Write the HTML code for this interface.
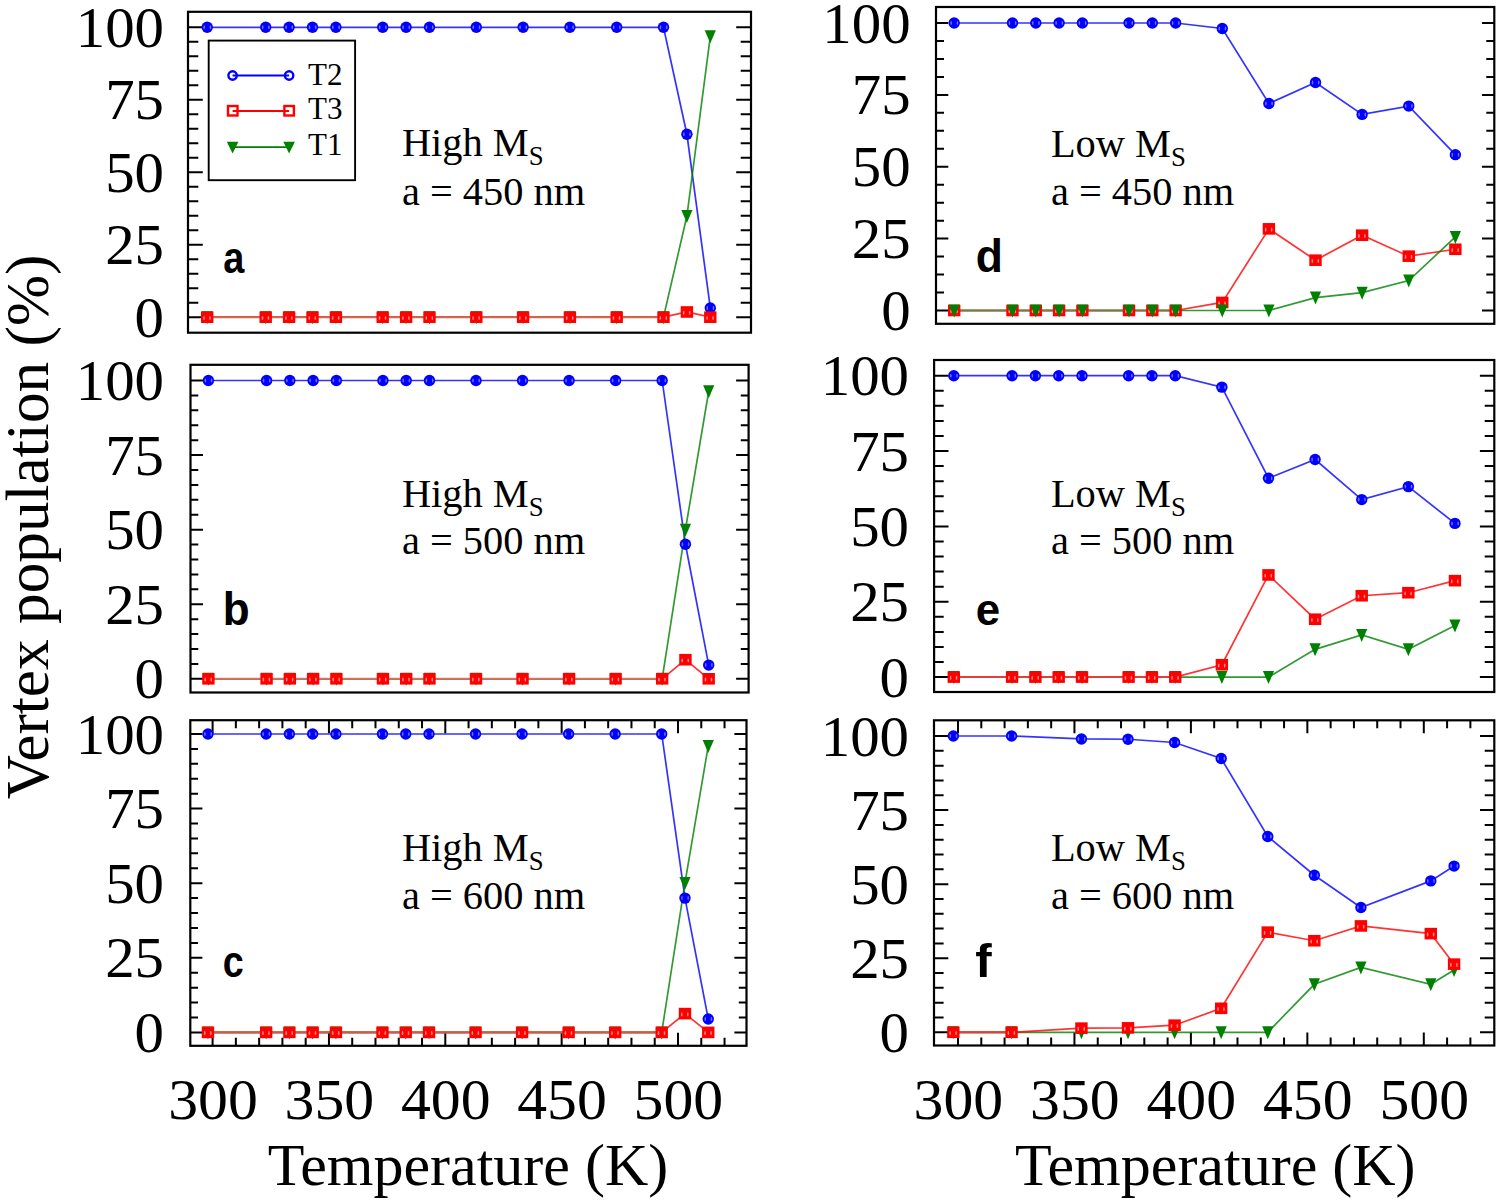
<!DOCTYPE html>
<html><head><meta charset="utf-8"><title>Vertex population</title>
<style>
html,body{margin:0;padding:0;background:#fff;}
body{width:1500px;height:1204px;overflow:hidden;}
svg{display:block;}
text{font-family:"Liberation Serif",serif;fill:#000;}
.tl{font-size:58px;}
.an{font-size:40px;}
.sub{font-size:26.5px;}
.lg{font-size:31px;}
.pl{font-family:"Liberation Sans",sans-serif;font-weight:bold;font-size:100px;}
.ax{font-size:60px;}
</style></head><body>
<svg width="1500" height="1204" viewBox="0 0 1500 1204">
<rect width="1500" height="1204" fill="#fff"/>
<path d="M188 317.2h14.8M751 317.2h-14.8M188 302.7h10.3M751 302.7h-10.3M188 288.21h10.3M751 288.21h-10.3M188 273.71h10.3M751 273.71h-10.3M188 259.22h10.3M751 259.22h-10.3M188 244.72h14.8M751 244.72h-14.8M188 230.23h10.3M751 230.23h-10.3M188 215.74h10.3M751 215.74h-10.3M188 201.24h10.3M751 201.24h-10.3M188 186.75h10.3M751 186.75h-10.3M188 172.25h14.8M751 172.25h-14.8M188 157.76h10.3M751 157.76h-10.3M188 143.26h10.3M751 143.26h-10.3M188 128.77h10.3M751 128.77h-10.3M188 114.27h10.3M751 114.27h-10.3M188 99.78h14.8M751 99.78h-14.8M188 85.28h10.3M751 85.28h-10.3M188 70.79h10.3M751 70.79h-10.3M188 56.29h10.3M751 56.29h-10.3M188 41.8h10.3M751 41.8h-10.3M188 27.3h14.8M751 27.3h-14.8" stroke="#000" stroke-width="2" fill="none"/>
<polyline points="207.2,27.3 265.7,27.3 289.1,27.3 312.5,27.3 335.9,27.3 382.7,27.3 406.1,27.3 429.5,27.3 476.3,27.3 523.1,27.3 569.9,27.3 616.7,27.3 663.5,27.3 686.9,134.27 710.3,307.92" fill="none" stroke="#0000ff" stroke-width="1.7" stroke-opacity="0.8"/>
<polyline points="207.2,317.2 265.7,317.2 289.1,317.2 312.5,317.2 335.9,317.2 382.7,317.2 406.1,317.2 429.5,317.2 476.3,317.2 523.1,317.2 569.9,317.2 616.7,317.2 663.5,317.2 686.9,216.02 710.3,36.29" fill="none" stroke="#008000" stroke-width="1.7" stroke-opacity="0.8"/>
<polyline points="207.2,317.2 265.7,317.2 289.1,317.2 312.5,317.2 335.9,317.2 382.7,317.2 406.1,317.2 429.5,317.2 476.3,317.2 523.1,317.2 569.9,317.2 616.7,317.2 663.5,317.2 686.9,311.98 710.3,317.2" fill="none" stroke="#ff0000" stroke-width="1.7" stroke-opacity="0.8"/>
<line x1="207.2" y1="317.2" x2="663.5" y2="317.2" stroke="#d06a55" stroke-width="2"/>
<circle cx="207.2" cy="27.3" r="5.7" fill="#0000ff"/><ellipse cx="204.2" cy="27.3" rx="0.8" ry="2" fill="#7070ff"/><ellipse cx="210.4" cy="27.3" rx="0.8" ry="2" fill="#7070ff"/>
<circle cx="265.7" cy="27.3" r="5.7" fill="#0000ff"/><ellipse cx="262.7" cy="27.3" rx="0.8" ry="2" fill="#7070ff"/><ellipse cx="268.9" cy="27.3" rx="0.8" ry="2" fill="#7070ff"/>
<circle cx="289.1" cy="27.3" r="5.7" fill="#0000ff"/><ellipse cx="286.1" cy="27.3" rx="0.8" ry="2" fill="#7070ff"/><ellipse cx="292.3" cy="27.3" rx="0.8" ry="2" fill="#7070ff"/>
<circle cx="312.5" cy="27.3" r="5.7" fill="#0000ff"/><ellipse cx="309.5" cy="27.3" rx="0.8" ry="2" fill="#7070ff"/><ellipse cx="315.7" cy="27.3" rx="0.8" ry="2" fill="#7070ff"/>
<circle cx="335.9" cy="27.3" r="5.7" fill="#0000ff"/><ellipse cx="332.9" cy="27.3" rx="0.8" ry="2" fill="#7070ff"/><ellipse cx="339.1" cy="27.3" rx="0.8" ry="2" fill="#7070ff"/>
<circle cx="382.7" cy="27.3" r="5.7" fill="#0000ff"/><ellipse cx="379.7" cy="27.3" rx="0.8" ry="2" fill="#7070ff"/><ellipse cx="385.9" cy="27.3" rx="0.8" ry="2" fill="#7070ff"/>
<circle cx="406.1" cy="27.3" r="5.7" fill="#0000ff"/><ellipse cx="403.1" cy="27.3" rx="0.8" ry="2" fill="#7070ff"/><ellipse cx="409.3" cy="27.3" rx="0.8" ry="2" fill="#7070ff"/>
<circle cx="429.5" cy="27.3" r="5.7" fill="#0000ff"/><ellipse cx="426.5" cy="27.3" rx="0.8" ry="2" fill="#7070ff"/><ellipse cx="432.7" cy="27.3" rx="0.8" ry="2" fill="#7070ff"/>
<circle cx="476.3" cy="27.3" r="5.7" fill="#0000ff"/><ellipse cx="473.3" cy="27.3" rx="0.8" ry="2" fill="#7070ff"/><ellipse cx="479.5" cy="27.3" rx="0.8" ry="2" fill="#7070ff"/>
<circle cx="523.1" cy="27.3" r="5.7" fill="#0000ff"/><ellipse cx="520.1" cy="27.3" rx="0.8" ry="2" fill="#7070ff"/><ellipse cx="526.3" cy="27.3" rx="0.8" ry="2" fill="#7070ff"/>
<circle cx="569.9" cy="27.3" r="5.7" fill="#0000ff"/><ellipse cx="566.9" cy="27.3" rx="0.8" ry="2" fill="#7070ff"/><ellipse cx="573.1" cy="27.3" rx="0.8" ry="2" fill="#7070ff"/>
<circle cx="616.7" cy="27.3" r="5.7" fill="#0000ff"/><ellipse cx="613.7" cy="27.3" rx="0.8" ry="2" fill="#7070ff"/><ellipse cx="619.9" cy="27.3" rx="0.8" ry="2" fill="#7070ff"/>
<circle cx="663.5" cy="27.3" r="5.7" fill="#0000ff"/><ellipse cx="660.5" cy="27.3" rx="0.8" ry="2" fill="#7070ff"/><ellipse cx="666.7" cy="27.3" rx="0.8" ry="2" fill="#7070ff"/>
<circle cx="686.9" cy="134.27" r="5.7" fill="#0000ff"/><ellipse cx="683.9" cy="134.27" rx="0.8" ry="2" fill="#7070ff"/><ellipse cx="690.1" cy="134.27" rx="0.8" ry="2" fill="#7070ff"/>
<circle cx="710.3" cy="307.92" r="5.7" fill="#0000ff"/><ellipse cx="707.3" cy="307.92" rx="0.8" ry="2" fill="#7070ff"/><ellipse cx="713.5" cy="307.92" rx="0.8" ry="2" fill="#7070ff"/>
<path d="M201.6 311.2L212.8 311.2L207.2 324.2Z" fill="#008000"/>
<path d="M260.1 311.2L271.3 311.2L265.7 324.2Z" fill="#008000"/>
<path d="M283.5 311.2L294.7 311.2L289.1 324.2Z" fill="#008000"/>
<path d="M306.9 311.2L318.1 311.2L312.5 324.2Z" fill="#008000"/>
<path d="M330.3 311.2L341.5 311.2L335.9 324.2Z" fill="#008000"/>
<path d="M377.1 311.2L388.3 311.2L382.7 324.2Z" fill="#008000"/>
<path d="M400.5 311.2L411.7 311.2L406.1 324.2Z" fill="#008000"/>
<path d="M423.9 311.2L435.1 311.2L429.5 324.2Z" fill="#008000"/>
<path d="M470.7 311.2L481.9 311.2L476.3 324.2Z" fill="#008000"/>
<path d="M517.5 311.2L528.7 311.2L523.1 324.2Z" fill="#008000"/>
<path d="M564.3 311.2L575.5 311.2L569.9 324.2Z" fill="#008000"/>
<path d="M611.1 311.2L622.3 311.2L616.7 324.2Z" fill="#008000"/>
<path d="M657.9 311.2L669.1 311.2L663.5 324.2Z" fill="#008000"/>
<path d="M681.3 210.02L692.5 210.02L686.9 223.02Z" fill="#008000"/>
<path d="M704.7 30.29L715.9 30.29L710.3 43.29Z" fill="#008000"/>
<rect x="201" y="311.4" width="12.4" height="11.6" fill="#ff0000"/><ellipse cx="204" cy="318" rx="0.8" ry="2.1" fill="#ff8a8a"/><ellipse cx="210" cy="318" rx="0.8" ry="2.1" fill="#ff8a8a"/>
<rect x="259.5" y="311.4" width="12.4" height="11.6" fill="#ff0000"/><ellipse cx="262.5" cy="318" rx="0.8" ry="2.1" fill="#ff8a8a"/><ellipse cx="268.5" cy="318" rx="0.8" ry="2.1" fill="#ff8a8a"/>
<rect x="282.9" y="311.4" width="12.4" height="11.6" fill="#ff0000"/><ellipse cx="285.9" cy="318" rx="0.8" ry="2.1" fill="#ff8a8a"/><ellipse cx="291.9" cy="318" rx="0.8" ry="2.1" fill="#ff8a8a"/>
<rect x="306.3" y="311.4" width="12.4" height="11.6" fill="#ff0000"/><ellipse cx="309.3" cy="318" rx="0.8" ry="2.1" fill="#ff8a8a"/><ellipse cx="315.3" cy="318" rx="0.8" ry="2.1" fill="#ff8a8a"/>
<rect x="329.7" y="311.4" width="12.4" height="11.6" fill="#ff0000"/><ellipse cx="332.7" cy="318" rx="0.8" ry="2.1" fill="#ff8a8a"/><ellipse cx="338.7" cy="318" rx="0.8" ry="2.1" fill="#ff8a8a"/>
<rect x="376.5" y="311.4" width="12.4" height="11.6" fill="#ff0000"/><ellipse cx="379.5" cy="318" rx="0.8" ry="2.1" fill="#ff8a8a"/><ellipse cx="385.5" cy="318" rx="0.8" ry="2.1" fill="#ff8a8a"/>
<rect x="399.9" y="311.4" width="12.4" height="11.6" fill="#ff0000"/><ellipse cx="402.9" cy="318" rx="0.8" ry="2.1" fill="#ff8a8a"/><ellipse cx="408.9" cy="318" rx="0.8" ry="2.1" fill="#ff8a8a"/>
<rect x="423.3" y="311.4" width="12.4" height="11.6" fill="#ff0000"/><ellipse cx="426.3" cy="318" rx="0.8" ry="2.1" fill="#ff8a8a"/><ellipse cx="432.3" cy="318" rx="0.8" ry="2.1" fill="#ff8a8a"/>
<rect x="470.1" y="311.4" width="12.4" height="11.6" fill="#ff0000"/><ellipse cx="473.1" cy="318" rx="0.8" ry="2.1" fill="#ff8a8a"/><ellipse cx="479.1" cy="318" rx="0.8" ry="2.1" fill="#ff8a8a"/>
<rect x="516.9" y="311.4" width="12.4" height="11.6" fill="#ff0000"/><ellipse cx="519.9" cy="318" rx="0.8" ry="2.1" fill="#ff8a8a"/><ellipse cx="525.9" cy="318" rx="0.8" ry="2.1" fill="#ff8a8a"/>
<rect x="563.7" y="311.4" width="12.4" height="11.6" fill="#ff0000"/><ellipse cx="566.7" cy="318" rx="0.8" ry="2.1" fill="#ff8a8a"/><ellipse cx="572.7" cy="318" rx="0.8" ry="2.1" fill="#ff8a8a"/>
<rect x="610.5" y="311.4" width="12.4" height="11.6" fill="#ff0000"/><ellipse cx="613.5" cy="318" rx="0.8" ry="2.1" fill="#ff8a8a"/><ellipse cx="619.5" cy="318" rx="0.8" ry="2.1" fill="#ff8a8a"/>
<rect x="657.3" y="311.4" width="12.4" height="11.6" fill="#ff0000"/><ellipse cx="660.3" cy="318" rx="0.8" ry="2.1" fill="#ff8a8a"/><ellipse cx="666.3" cy="318" rx="0.8" ry="2.1" fill="#ff8a8a"/>
<rect x="680.7" y="306.18" width="12.4" height="11.6" fill="#ff0000"/><ellipse cx="683.7" cy="312.78" rx="0.8" ry="2.1" fill="#ff8a8a"/><ellipse cx="689.7" cy="312.78" rx="0.8" ry="2.1" fill="#ff8a8a"/>
<rect x="704.1" y="311.4" width="12.4" height="11.6" fill="#ff0000"/><ellipse cx="707.1" cy="318" rx="0.8" ry="2.1" fill="#ff8a8a"/><ellipse cx="713.1" cy="318" rx="0.8" ry="2.1" fill="#ff8a8a"/>
<rect x="188" y="11.8" width="563" height="320.9" fill="none" stroke="#000" stroke-width="2.2"/>
<text transform="translate(164 336.8) scale(1.015 1)" class="tl" text-anchor="end">0</text>
<text transform="translate(164 264.32) scale(1.015 1)" class="tl" text-anchor="end">25</text>
<text transform="translate(164 191.85) scale(1.015 1)" class="tl" text-anchor="end">50</text>
<text transform="translate(164 119.38) scale(1.015 1)" class="tl" text-anchor="end">75</text>
<text transform="translate(164 46.9) scale(1.015 1)" class="tl" text-anchor="end">100</text>
<text transform="translate(401.9 156.4) scale(1.01 1)" class="an">High M<tspan class="sub" dy="9">S</tspan></text>
<text transform="translate(401.9 204.6) scale(1.01 1)" class="an">a = 450 nm</text>
<text transform="translate(223.2 272.56) scale(0.3790 0.4361)" class="pl">a</text>
<path d="M190.5 678.8h12.5M748.6 678.8h-12.5M190.5 663.88h7.8M748.6 663.88h-7.8M190.5 648.97h7.8M748.6 648.97h-7.8M190.5 634.05h7.8M748.6 634.05h-7.8M190.5 619.14h7.8M748.6 619.14h-7.8M190.5 604.22h12.5M748.6 604.22h-12.5M190.5 589.31h7.8M748.6 589.31h-7.8M190.5 574.39h7.8M748.6 574.39h-7.8M190.5 559.48h7.8M748.6 559.48h-7.8M190.5 544.56h7.8M748.6 544.56h-7.8M190.5 529.65h12.5M748.6 529.65h-12.5M190.5 514.74h7.8M748.6 514.74h-7.8M190.5 499.82h7.8M748.6 499.82h-7.8M190.5 484.9h7.8M748.6 484.9h-7.8M190.5 469.99h7.8M748.6 469.99h-7.8M190.5 455.07h12.5M748.6 455.07h-12.5M190.5 440.16h7.8M748.6 440.16h-7.8M190.5 425.25h7.8M748.6 425.25h-7.8M190.5 410.33h7.8M748.6 410.33h-7.8M190.5 395.41h7.8M748.6 395.41h-7.8M190.5 380.5h12.5M748.6 380.5h-12.5" stroke="#000" stroke-width="2" fill="none"/>
<polyline points="208.4,380.5 266.57,380.5 289.85,380.5 313.12,380.5 336.38,380.5 382.93,380.5 406.19,380.5 429.47,380.5 476,380.5 522.54,380.5 569.09,380.5 615.62,380.5 662.16,380.5 685.43,544.27 708.71,665.08" fill="none" stroke="#0000ff" stroke-width="1.7" stroke-opacity="0.8"/>
<polyline points="208.4,678.8 266.57,678.8 289.85,678.8 313.12,678.8 336.38,678.8 382.93,678.8 406.19,678.8 429.47,678.8 476,678.8 522.54,678.8 569.09,678.8 615.62,678.8 662.16,678.8 685.43,529.65 708.71,391.24" fill="none" stroke="#008000" stroke-width="1.7" stroke-opacity="0.8"/>
<polyline points="208.4,678.8 266.57,678.8 289.85,678.8 313.12,678.8 336.38,678.8 382.93,678.8 406.19,678.8 429.47,678.8 476,678.8 522.54,678.8 569.09,678.8 615.62,678.8 662.16,678.8 685.43,659.71 708.71,678.8" fill="none" stroke="#ff0000" stroke-width="1.7" stroke-opacity="0.8"/>
<line x1="208.4" y1="678.8" x2="662.16" y2="678.8" stroke="#cd7a66" stroke-width="2"/>
<circle cx="208.4" cy="380.5" r="5.7" fill="#0000ff"/><ellipse cx="205.4" cy="380.5" rx="0.8" ry="2" fill="#7070ff"/><ellipse cx="211.6" cy="380.5" rx="0.8" ry="2" fill="#7070ff"/>
<circle cx="266.57" cy="380.5" r="5.7" fill="#0000ff"/><ellipse cx="263.57" cy="380.5" rx="0.8" ry="2" fill="#7070ff"/><ellipse cx="269.77" cy="380.5" rx="0.8" ry="2" fill="#7070ff"/>
<circle cx="289.85" cy="380.5" r="5.7" fill="#0000ff"/><ellipse cx="286.85" cy="380.5" rx="0.8" ry="2" fill="#7070ff"/><ellipse cx="293.05" cy="380.5" rx="0.8" ry="2" fill="#7070ff"/>
<circle cx="313.12" cy="380.5" r="5.7" fill="#0000ff"/><ellipse cx="310.12" cy="380.5" rx="0.8" ry="2" fill="#7070ff"/><ellipse cx="316.31" cy="380.5" rx="0.8" ry="2" fill="#7070ff"/>
<circle cx="336.38" cy="380.5" r="5.7" fill="#0000ff"/><ellipse cx="333.38" cy="380.5" rx="0.8" ry="2" fill="#7070ff"/><ellipse cx="339.58" cy="380.5" rx="0.8" ry="2" fill="#7070ff"/>
<circle cx="382.93" cy="380.5" r="5.7" fill="#0000ff"/><ellipse cx="379.93" cy="380.5" rx="0.8" ry="2" fill="#7070ff"/><ellipse cx="386.12" cy="380.5" rx="0.8" ry="2" fill="#7070ff"/>
<circle cx="406.19" cy="380.5" r="5.7" fill="#0000ff"/><ellipse cx="403.19" cy="380.5" rx="0.8" ry="2" fill="#7070ff"/><ellipse cx="409.39" cy="380.5" rx="0.8" ry="2" fill="#7070ff"/>
<circle cx="429.47" cy="380.5" r="5.7" fill="#0000ff"/><ellipse cx="426.47" cy="380.5" rx="0.8" ry="2" fill="#7070ff"/><ellipse cx="432.67" cy="380.5" rx="0.8" ry="2" fill="#7070ff"/>
<circle cx="476" cy="380.5" r="5.7" fill="#0000ff"/><ellipse cx="473" cy="380.5" rx="0.8" ry="2" fill="#7070ff"/><ellipse cx="479.2" cy="380.5" rx="0.8" ry="2" fill="#7070ff"/>
<circle cx="522.54" cy="380.5" r="5.7" fill="#0000ff"/><ellipse cx="519.54" cy="380.5" rx="0.8" ry="2" fill="#7070ff"/><ellipse cx="525.75" cy="380.5" rx="0.8" ry="2" fill="#7070ff"/>
<circle cx="569.09" cy="380.5" r="5.7" fill="#0000ff"/><ellipse cx="566.09" cy="380.5" rx="0.8" ry="2" fill="#7070ff"/><ellipse cx="572.29" cy="380.5" rx="0.8" ry="2" fill="#7070ff"/>
<circle cx="615.62" cy="380.5" r="5.7" fill="#0000ff"/><ellipse cx="612.62" cy="380.5" rx="0.8" ry="2" fill="#7070ff"/><ellipse cx="618.83" cy="380.5" rx="0.8" ry="2" fill="#7070ff"/>
<circle cx="662.16" cy="380.5" r="5.7" fill="#0000ff"/><ellipse cx="659.16" cy="380.5" rx="0.8" ry="2" fill="#7070ff"/><ellipse cx="665.37" cy="380.5" rx="0.8" ry="2" fill="#7070ff"/>
<circle cx="685.43" cy="544.27" r="5.7" fill="#0000ff"/><ellipse cx="682.43" cy="544.27" rx="0.8" ry="2" fill="#7070ff"/><ellipse cx="688.63" cy="544.27" rx="0.8" ry="2" fill="#7070ff"/>
<circle cx="708.71" cy="665.08" r="5.7" fill="#0000ff"/><ellipse cx="705.71" cy="665.08" rx="0.8" ry="2" fill="#7070ff"/><ellipse cx="711.91" cy="665.08" rx="0.8" ry="2" fill="#7070ff"/>
<path d="M202.8 672.8L214 672.8L208.4 685.8Z" fill="#008000"/>
<path d="M260.97 672.8L272.18 672.8L266.57 685.8Z" fill="#008000"/>
<path d="M284.25 672.8L295.45 672.8L289.85 685.8Z" fill="#008000"/>
<path d="M307.51 672.8L318.72 672.8L313.12 685.8Z" fill="#008000"/>
<path d="M330.78 672.8L341.99 672.8L336.38 685.8Z" fill="#008000"/>
<path d="M377.32 672.8L388.53 672.8L382.93 685.8Z" fill="#008000"/>
<path d="M400.59 672.8L411.8 672.8L406.19 685.8Z" fill="#008000"/>
<path d="M423.87 672.8L435.07 672.8L429.47 685.8Z" fill="#008000"/>
<path d="M470.4 672.8L481.61 672.8L476 685.8Z" fill="#008000"/>
<path d="M516.94 672.8L528.14 672.8L522.54 685.8Z" fill="#008000"/>
<path d="M563.49 672.8L574.69 672.8L569.09 685.8Z" fill="#008000"/>
<path d="M610.02 672.8L621.23 672.8L615.62 685.8Z" fill="#008000"/>
<path d="M656.56 672.8L667.76 672.8L662.16 685.8Z" fill="#008000"/>
<path d="M679.83 523.65L691.03 523.65L685.43 536.65Z" fill="#008000"/>
<path d="M703.11 385.24L714.31 385.24L708.71 398.24Z" fill="#008000"/>
<rect x="202.2" y="673" width="12.4" height="11.6" fill="#ff0000"/><ellipse cx="205.2" cy="679.6" rx="0.8" ry="2.1" fill="#ff8a8a"/><ellipse cx="211.2" cy="679.6" rx="0.8" ry="2.1" fill="#ff8a8a"/>
<rect x="260.38" y="673" width="12.4" height="11.6" fill="#ff0000"/><ellipse cx="263.38" cy="679.6" rx="0.8" ry="2.1" fill="#ff8a8a"/><ellipse cx="269.38" cy="679.6" rx="0.8" ry="2.1" fill="#ff8a8a"/>
<rect x="283.65" y="673" width="12.4" height="11.6" fill="#ff0000"/><ellipse cx="286.65" cy="679.6" rx="0.8" ry="2.1" fill="#ff8a8a"/><ellipse cx="292.65" cy="679.6" rx="0.8" ry="2.1" fill="#ff8a8a"/>
<rect x="306.92" y="673" width="12.4" height="11.6" fill="#ff0000"/><ellipse cx="309.92" cy="679.6" rx="0.8" ry="2.1" fill="#ff8a8a"/><ellipse cx="315.92" cy="679.6" rx="0.8" ry="2.1" fill="#ff8a8a"/>
<rect x="330.19" y="673" width="12.4" height="11.6" fill="#ff0000"/><ellipse cx="333.19" cy="679.6" rx="0.8" ry="2.1" fill="#ff8a8a"/><ellipse cx="339.19" cy="679.6" rx="0.8" ry="2.1" fill="#ff8a8a"/>
<rect x="376.73" y="673" width="12.4" height="11.6" fill="#ff0000"/><ellipse cx="379.73" cy="679.6" rx="0.8" ry="2.1" fill="#ff8a8a"/><ellipse cx="385.73" cy="679.6" rx="0.8" ry="2.1" fill="#ff8a8a"/>
<rect x="400" y="673" width="12.4" height="11.6" fill="#ff0000"/><ellipse cx="403" cy="679.6" rx="0.8" ry="2.1" fill="#ff8a8a"/><ellipse cx="409" cy="679.6" rx="0.8" ry="2.1" fill="#ff8a8a"/>
<rect x="423.27" y="673" width="12.4" height="11.6" fill="#ff0000"/><ellipse cx="426.27" cy="679.6" rx="0.8" ry="2.1" fill="#ff8a8a"/><ellipse cx="432.27" cy="679.6" rx="0.8" ry="2.1" fill="#ff8a8a"/>
<rect x="469.81" y="673" width="12.4" height="11.6" fill="#ff0000"/><ellipse cx="472.81" cy="679.6" rx="0.8" ry="2.1" fill="#ff8a8a"/><ellipse cx="478.81" cy="679.6" rx="0.8" ry="2.1" fill="#ff8a8a"/>
<rect x="516.34" y="673" width="12.4" height="11.6" fill="#ff0000"/><ellipse cx="519.34" cy="679.6" rx="0.8" ry="2.1" fill="#ff8a8a"/><ellipse cx="525.34" cy="679.6" rx="0.8" ry="2.1" fill="#ff8a8a"/>
<rect x="562.88" y="673" width="12.4" height="11.6" fill="#ff0000"/><ellipse cx="565.88" cy="679.6" rx="0.8" ry="2.1" fill="#ff8a8a"/><ellipse cx="571.88" cy="679.6" rx="0.8" ry="2.1" fill="#ff8a8a"/>
<rect x="609.42" y="673" width="12.4" height="11.6" fill="#ff0000"/><ellipse cx="612.42" cy="679.6" rx="0.8" ry="2.1" fill="#ff8a8a"/><ellipse cx="618.42" cy="679.6" rx="0.8" ry="2.1" fill="#ff8a8a"/>
<rect x="655.96" y="673" width="12.4" height="11.6" fill="#ff0000"/><ellipse cx="658.96" cy="679.6" rx="0.8" ry="2.1" fill="#ff8a8a"/><ellipse cx="664.96" cy="679.6" rx="0.8" ry="2.1" fill="#ff8a8a"/>
<rect x="679.23" y="653.91" width="12.4" height="11.6" fill="#ff0000"/><ellipse cx="682.23" cy="660.51" rx="0.8" ry="2.1" fill="#ff8a8a"/><ellipse cx="688.23" cy="660.51" rx="0.8" ry="2.1" fill="#ff8a8a"/>
<rect x="702.5" y="673" width="12.4" height="11.6" fill="#ff0000"/><ellipse cx="705.5" cy="679.6" rx="0.8" ry="2.1" fill="#ff8a8a"/><ellipse cx="711.5" cy="679.6" rx="0.8" ry="2.1" fill="#ff8a8a"/>
<rect x="190.5" y="364.8" width="558.1" height="327.7" fill="none" stroke="#000" stroke-width="2.2"/>
<text transform="translate(164 698.4) scale(1.015 1)" class="tl" text-anchor="end">0</text>
<text transform="translate(164 623.82) scale(1.015 1)" class="tl" text-anchor="end">25</text>
<text transform="translate(164 549.25) scale(1.015 1)" class="tl" text-anchor="end">50</text>
<text transform="translate(164 474.68) scale(1.015 1)" class="tl" text-anchor="end">75</text>
<text transform="translate(164 400.1) scale(1.015 1)" class="tl" text-anchor="end">100</text>
<text transform="translate(401.9 506.7) scale(1.01 1)" class="an">High M<tspan class="sub" dy="9">S</tspan></text>
<text transform="translate(401.9 554.3) scale(1.01 1)" class="an">a = 500 nm</text>
<text transform="translate(222.69 625.43) scale(0.4405 0.4667)" class="pl">b</text>
<path d="M190.3 1032.4h12.1M746.5 1032.4h-12.1M190.3 1017.48h7.7M746.5 1017.48h-7.7M190.3 1002.56h7.7M746.5 1002.56h-7.7M190.3 987.64h7.7M746.5 987.64h-7.7M190.3 972.72h7.7M746.5 972.72h-7.7M190.3 957.8h12.1M746.5 957.8h-12.1M190.3 942.88h7.7M746.5 942.88h-7.7M190.3 927.96h7.7M746.5 927.96h-7.7M190.3 913.04h7.7M746.5 913.04h-7.7M190.3 898.12h7.7M746.5 898.12h-7.7M190.3 883.2h12.1M746.5 883.2h-12.1M190.3 868.28h7.7M746.5 868.28h-7.7M190.3 853.36h7.7M746.5 853.36h-7.7M190.3 838.44h7.7M746.5 838.44h-7.7M190.3 823.52h7.7M746.5 823.52h-7.7M190.3 808.6h12.1M746.5 808.6h-12.1M190.3 793.68h7.7M746.5 793.68h-7.7M190.3 778.76h7.7M746.5 778.76h-7.7M190.3 763.84h7.7M746.5 763.84h-7.7M190.3 748.92h7.7M746.5 748.92h-7.7M190.3 734h12.1M746.5 734h-12.1M212.6 720.2v13M212.6 1045.8v-13M235.87 720.2v8M235.87 1045.8v-8M259.14 720.2v8M259.14 1045.8v-8M282.41 720.2v8M282.41 1045.8v-8M305.68 720.2v8M305.68 1045.8v-8M328.95 720.2v13M328.95 1045.8v-13M352.22 720.2v8M352.22 1045.8v-8M375.49 720.2v8M375.49 1045.8v-8M398.76 720.2v8M398.76 1045.8v-8M422.03 720.2v8M422.03 1045.8v-8M445.3 720.2v13M445.3 1045.8v-13M468.57 720.2v8M468.57 1045.8v-8M491.84 720.2v8M491.84 1045.8v-8M515.11 720.2v8M515.11 1045.8v-8M538.38 720.2v8M538.38 1045.8v-8M561.65 720.2v13M561.65 1045.8v-13M584.92 720.2v8M584.92 1045.8v-8M608.19 720.2v8M608.19 1045.8v-8M631.46 720.2v8M631.46 1045.8v-8M654.73 720.2v8M654.73 1045.8v-8M678 720.2v13M678 1045.8v-13M701.27 720.2v8M701.27 1045.8v-8M724.54 720.2v8M724.54 1045.8v-8" stroke="#000" stroke-width="2" fill="none"/>
<polyline points="207.95,734 266.12,734 289.39,734 312.66,734 335.93,734 382.47,734 405.74,734 429.01,734 475.55,734 522.09,734 568.63,734 615.17,734 661.71,734 684.98,898.12 708.25,1018.97" fill="none" stroke="#0000ff" stroke-width="1.7" stroke-opacity="0.8"/>
<polyline points="207.95,1032.4 266.12,1032.4 289.39,1032.4 312.66,1032.4 335.93,1032.4 382.47,1032.4 405.74,1032.4 429.01,1032.4 475.55,1032.4 522.09,1032.4 568.63,1032.4 615.17,1032.4 661.71,1032.4 684.98,882.9 708.25,745.94" fill="none" stroke="#008000" stroke-width="1.7" stroke-opacity="0.8"/>
<polyline points="207.95,1032.4 266.12,1032.4 289.39,1032.4 312.66,1032.4 335.93,1032.4 382.47,1032.4 405.74,1032.4 429.01,1032.4 475.55,1032.4 522.09,1032.4 568.63,1032.4 615.17,1032.4 661.71,1032.4 684.98,1013.6 708.25,1032.4" fill="none" stroke="#ff0000" stroke-width="1.7" stroke-opacity="0.8"/>
<line x1="207.95" y1="1032.4" x2="661.71" y2="1032.4" stroke="#cc5c48" stroke-width="2"/>
<circle cx="207.95" cy="734" r="5.7" fill="#0000ff"/><ellipse cx="204.95" cy="734" rx="0.8" ry="2" fill="#7070ff"/><ellipse cx="211.15" cy="734" rx="0.8" ry="2" fill="#7070ff"/>
<circle cx="266.12" cy="734" r="5.7" fill="#0000ff"/><ellipse cx="263.12" cy="734" rx="0.8" ry="2" fill="#7070ff"/><ellipse cx="269.32" cy="734" rx="0.8" ry="2" fill="#7070ff"/>
<circle cx="289.39" cy="734" r="5.7" fill="#0000ff"/><ellipse cx="286.39" cy="734" rx="0.8" ry="2" fill="#7070ff"/><ellipse cx="292.59" cy="734" rx="0.8" ry="2" fill="#7070ff"/>
<circle cx="312.66" cy="734" r="5.7" fill="#0000ff"/><ellipse cx="309.66" cy="734" rx="0.8" ry="2" fill="#7070ff"/><ellipse cx="315.86" cy="734" rx="0.8" ry="2" fill="#7070ff"/>
<circle cx="335.93" cy="734" r="5.7" fill="#0000ff"/><ellipse cx="332.93" cy="734" rx="0.8" ry="2" fill="#7070ff"/><ellipse cx="339.13" cy="734" rx="0.8" ry="2" fill="#7070ff"/>
<circle cx="382.47" cy="734" r="5.7" fill="#0000ff"/><ellipse cx="379.47" cy="734" rx="0.8" ry="2" fill="#7070ff"/><ellipse cx="385.67" cy="734" rx="0.8" ry="2" fill="#7070ff"/>
<circle cx="405.74" cy="734" r="5.7" fill="#0000ff"/><ellipse cx="402.74" cy="734" rx="0.8" ry="2" fill="#7070ff"/><ellipse cx="408.94" cy="734" rx="0.8" ry="2" fill="#7070ff"/>
<circle cx="429.01" cy="734" r="5.7" fill="#0000ff"/><ellipse cx="426.01" cy="734" rx="0.8" ry="2" fill="#7070ff"/><ellipse cx="432.21" cy="734" rx="0.8" ry="2" fill="#7070ff"/>
<circle cx="475.55" cy="734" r="5.7" fill="#0000ff"/><ellipse cx="472.55" cy="734" rx="0.8" ry="2" fill="#7070ff"/><ellipse cx="478.75" cy="734" rx="0.8" ry="2" fill="#7070ff"/>
<circle cx="522.09" cy="734" r="5.7" fill="#0000ff"/><ellipse cx="519.09" cy="734" rx="0.8" ry="2" fill="#7070ff"/><ellipse cx="525.29" cy="734" rx="0.8" ry="2" fill="#7070ff"/>
<circle cx="568.63" cy="734" r="5.7" fill="#0000ff"/><ellipse cx="565.63" cy="734" rx="0.8" ry="2" fill="#7070ff"/><ellipse cx="571.83" cy="734" rx="0.8" ry="2" fill="#7070ff"/>
<circle cx="615.17" cy="734" r="5.7" fill="#0000ff"/><ellipse cx="612.17" cy="734" rx="0.8" ry="2" fill="#7070ff"/><ellipse cx="618.37" cy="734" rx="0.8" ry="2" fill="#7070ff"/>
<circle cx="661.71" cy="734" r="5.7" fill="#0000ff"/><ellipse cx="658.71" cy="734" rx="0.8" ry="2" fill="#7070ff"/><ellipse cx="664.91" cy="734" rx="0.8" ry="2" fill="#7070ff"/>
<circle cx="684.98" cy="898.12" r="5.7" fill="#0000ff"/><ellipse cx="681.98" cy="898.12" rx="0.8" ry="2" fill="#7070ff"/><ellipse cx="688.18" cy="898.12" rx="0.8" ry="2" fill="#7070ff"/>
<circle cx="708.25" cy="1018.97" r="5.7" fill="#0000ff"/><ellipse cx="705.25" cy="1018.97" rx="0.8" ry="2" fill="#7070ff"/><ellipse cx="711.45" cy="1018.97" rx="0.8" ry="2" fill="#7070ff"/>
<path d="M202.35 1026.4L213.55 1026.4L207.95 1039.4Z" fill="#008000"/>
<path d="M260.52 1026.4L271.72 1026.4L266.12 1039.4Z" fill="#008000"/>
<path d="M283.79 1026.4L294.99 1026.4L289.39 1039.4Z" fill="#008000"/>
<path d="M307.06 1026.4L318.26 1026.4L312.66 1039.4Z" fill="#008000"/>
<path d="M330.33 1026.4L341.53 1026.4L335.93 1039.4Z" fill="#008000"/>
<path d="M376.87 1026.4L388.07 1026.4L382.47 1039.4Z" fill="#008000"/>
<path d="M400.14 1026.4L411.34 1026.4L405.74 1039.4Z" fill="#008000"/>
<path d="M423.41 1026.4L434.61 1026.4L429.01 1039.4Z" fill="#008000"/>
<path d="M469.95 1026.4L481.15 1026.4L475.55 1039.4Z" fill="#008000"/>
<path d="M516.49 1026.4L527.69 1026.4L522.09 1039.4Z" fill="#008000"/>
<path d="M563.03 1026.4L574.23 1026.4L568.63 1039.4Z" fill="#008000"/>
<path d="M609.57 1026.4L620.77 1026.4L615.17 1039.4Z" fill="#008000"/>
<path d="M656.11 1026.4L667.31 1026.4L661.71 1039.4Z" fill="#008000"/>
<path d="M679.38 876.9L690.58 876.9L684.98 889.9Z" fill="#008000"/>
<path d="M702.65 739.94L713.85 739.94L708.25 752.94Z" fill="#008000"/>
<rect x="201.75" y="1026.6" width="12.4" height="11.6" fill="#ff0000"/><ellipse cx="204.75" cy="1033.2" rx="0.8" ry="2.1" fill="#ff8a8a"/><ellipse cx="210.75" cy="1033.2" rx="0.8" ry="2.1" fill="#ff8a8a"/>
<rect x="259.92" y="1026.6" width="12.4" height="11.6" fill="#ff0000"/><ellipse cx="262.92" cy="1033.2" rx="0.8" ry="2.1" fill="#ff8a8a"/><ellipse cx="268.92" cy="1033.2" rx="0.8" ry="2.1" fill="#ff8a8a"/>
<rect x="283.19" y="1026.6" width="12.4" height="11.6" fill="#ff0000"/><ellipse cx="286.19" cy="1033.2" rx="0.8" ry="2.1" fill="#ff8a8a"/><ellipse cx="292.19" cy="1033.2" rx="0.8" ry="2.1" fill="#ff8a8a"/>
<rect x="306.46" y="1026.6" width="12.4" height="11.6" fill="#ff0000"/><ellipse cx="309.46" cy="1033.2" rx="0.8" ry="2.1" fill="#ff8a8a"/><ellipse cx="315.46" cy="1033.2" rx="0.8" ry="2.1" fill="#ff8a8a"/>
<rect x="329.73" y="1026.6" width="12.4" height="11.6" fill="#ff0000"/><ellipse cx="332.73" cy="1033.2" rx="0.8" ry="2.1" fill="#ff8a8a"/><ellipse cx="338.73" cy="1033.2" rx="0.8" ry="2.1" fill="#ff8a8a"/>
<rect x="376.27" y="1026.6" width="12.4" height="11.6" fill="#ff0000"/><ellipse cx="379.27" cy="1033.2" rx="0.8" ry="2.1" fill="#ff8a8a"/><ellipse cx="385.27" cy="1033.2" rx="0.8" ry="2.1" fill="#ff8a8a"/>
<rect x="399.54" y="1026.6" width="12.4" height="11.6" fill="#ff0000"/><ellipse cx="402.54" cy="1033.2" rx="0.8" ry="2.1" fill="#ff8a8a"/><ellipse cx="408.54" cy="1033.2" rx="0.8" ry="2.1" fill="#ff8a8a"/>
<rect x="422.81" y="1026.6" width="12.4" height="11.6" fill="#ff0000"/><ellipse cx="425.81" cy="1033.2" rx="0.8" ry="2.1" fill="#ff8a8a"/><ellipse cx="431.81" cy="1033.2" rx="0.8" ry="2.1" fill="#ff8a8a"/>
<rect x="469.35" y="1026.6" width="12.4" height="11.6" fill="#ff0000"/><ellipse cx="472.35" cy="1033.2" rx="0.8" ry="2.1" fill="#ff8a8a"/><ellipse cx="478.35" cy="1033.2" rx="0.8" ry="2.1" fill="#ff8a8a"/>
<rect x="515.89" y="1026.6" width="12.4" height="11.6" fill="#ff0000"/><ellipse cx="518.89" cy="1033.2" rx="0.8" ry="2.1" fill="#ff8a8a"/><ellipse cx="524.89" cy="1033.2" rx="0.8" ry="2.1" fill="#ff8a8a"/>
<rect x="562.43" y="1026.6" width="12.4" height="11.6" fill="#ff0000"/><ellipse cx="565.43" cy="1033.2" rx="0.8" ry="2.1" fill="#ff8a8a"/><ellipse cx="571.43" cy="1033.2" rx="0.8" ry="2.1" fill="#ff8a8a"/>
<rect x="608.97" y="1026.6" width="12.4" height="11.6" fill="#ff0000"/><ellipse cx="611.97" cy="1033.2" rx="0.8" ry="2.1" fill="#ff8a8a"/><ellipse cx="617.97" cy="1033.2" rx="0.8" ry="2.1" fill="#ff8a8a"/>
<rect x="655.51" y="1026.6" width="12.4" height="11.6" fill="#ff0000"/><ellipse cx="658.51" cy="1033.2" rx="0.8" ry="2.1" fill="#ff8a8a"/><ellipse cx="664.51" cy="1033.2" rx="0.8" ry="2.1" fill="#ff8a8a"/>
<rect x="678.78" y="1007.8" width="12.4" height="11.6" fill="#ff0000"/><ellipse cx="681.78" cy="1014.4" rx="0.8" ry="2.1" fill="#ff8a8a"/><ellipse cx="687.78" cy="1014.4" rx="0.8" ry="2.1" fill="#ff8a8a"/>
<rect x="702.05" y="1026.6" width="12.4" height="11.6" fill="#ff0000"/><ellipse cx="705.05" cy="1033.2" rx="0.8" ry="2.1" fill="#ff8a8a"/><ellipse cx="711.05" cy="1033.2" rx="0.8" ry="2.1" fill="#ff8a8a"/>
<rect x="190.3" y="720.2" width="556.2" height="325.6" fill="none" stroke="#000" stroke-width="2.2"/>
<text transform="translate(164 1052) scale(1.015 1)" class="tl" text-anchor="end">0</text>
<text transform="translate(164 977.4) scale(1.015 1)" class="tl" text-anchor="end">25</text>
<text transform="translate(164 902.8) scale(1.015 1)" class="tl" text-anchor="end">50</text>
<text transform="translate(164 828.2) scale(1.015 1)" class="tl" text-anchor="end">75</text>
<text transform="translate(164 753.6) scale(1.015 1)" class="tl" text-anchor="end">100</text>
<text transform="translate(401.9 861.1) scale(1.01 1)" class="an">High M<tspan class="sub" dy="9">S</tspan></text>
<text transform="translate(401.9 909) scale(1.01 1)" class="an">a = 600 nm</text>
<text transform="translate(222.83 977.25) scale(0.3770 0.4489)" class="pl">c</text>
<path d="M936 310.5h12.3M1494.3 310.5h-12.3M936 292.53h8M1494.3 292.53h-8M936 274.56h8M1494.3 274.56h-8M936 256.59h8M1494.3 256.59h-8M936 238.62h12.3M1494.3 238.62h-12.3M936 220.66h8M1494.3 220.66h-8M936 202.69h8M1494.3 202.69h-8M936 184.72h8M1494.3 184.72h-8M936 166.75h12.3M1494.3 166.75h-12.3M936 148.78h8M1494.3 148.78h-8M936 130.81h8M1494.3 130.81h-8M936 112.84h8M1494.3 112.84h-8M936 94.88h12.3M1494.3 94.88h-12.3M936 76.91h8M1494.3 76.91h-8M936 58.94h8M1494.3 58.94h-8M936 40.97h8M1494.3 40.97h-8M936 23h12.3M1494.3 23h-12.3" stroke="#000" stroke-width="2" fill="none"/>
<polyline points="954.2,23 1012.48,23 1035.79,23 1059.1,23 1082.4,23 1129.03,23 1152.34,23 1175.64,23 1222.27,28.46 1268.88,103.5 1315.51,82.51 1362.12,114.42 1408.75,106.09 1455.37,154.67" fill="none" stroke="#0000ff" stroke-width="1.7" stroke-opacity="0.8"/>
<polyline points="954.2,310.5 1012.48,310.5 1035.79,310.5 1059.1,310.5 1082.4,310.5 1129.03,310.5 1152.34,310.5 1175.64,310.5 1222.27,302.45 1268.88,228.85 1315.51,260.19 1362.12,235.18 1408.75,256.16 1455.37,249.26" fill="none" stroke="#ff0000" stroke-width="1.7" stroke-opacity="0.8"/>
<polyline points="954.2,310.5 1012.48,310.5 1035.79,310.5 1059.1,310.5 1082.4,310.5 1129.03,310.5 1152.34,310.5 1175.64,310.5 1222.27,310.5 1268.88,310.5 1315.51,297.56 1362.12,292.68 1408.75,280.6 1455.37,236.9" fill="none" stroke="#008000" stroke-width="1.7" stroke-opacity="0.8"/>
<line x1="954.2" y1="310.5" x2="1175.64" y2="310.5" stroke="#7d7846" stroke-width="2"/>
<circle cx="954.2" cy="23" r="5.7" fill="#0000ff"/><ellipse cx="951.2" cy="23" rx="0.8" ry="2" fill="#7070ff"/><ellipse cx="957.4" cy="23" rx="0.8" ry="2" fill="#7070ff"/>
<circle cx="1012.48" cy="23" r="5.7" fill="#0000ff"/><ellipse cx="1009.48" cy="23" rx="0.8" ry="2" fill="#7070ff"/><ellipse cx="1015.68" cy="23" rx="0.8" ry="2" fill="#7070ff"/>
<circle cx="1035.79" cy="23" r="5.7" fill="#0000ff"/><ellipse cx="1032.79" cy="23" rx="0.8" ry="2" fill="#7070ff"/><ellipse cx="1038.99" cy="23" rx="0.8" ry="2" fill="#7070ff"/>
<circle cx="1059.1" cy="23" r="5.7" fill="#0000ff"/><ellipse cx="1056.1" cy="23" rx="0.8" ry="2" fill="#7070ff"/><ellipse cx="1062.3" cy="23" rx="0.8" ry="2" fill="#7070ff"/>
<circle cx="1082.4" cy="23" r="5.7" fill="#0000ff"/><ellipse cx="1079.4" cy="23" rx="0.8" ry="2" fill="#7070ff"/><ellipse cx="1085.61" cy="23" rx="0.8" ry="2" fill="#7070ff"/>
<circle cx="1129.03" cy="23" r="5.7" fill="#0000ff"/><ellipse cx="1126.03" cy="23" rx="0.8" ry="2" fill="#7070ff"/><ellipse cx="1132.23" cy="23" rx="0.8" ry="2" fill="#7070ff"/>
<circle cx="1152.34" cy="23" r="5.7" fill="#0000ff"/><ellipse cx="1149.34" cy="23" rx="0.8" ry="2" fill="#7070ff"/><ellipse cx="1155.54" cy="23" rx="0.8" ry="2" fill="#7070ff"/>
<circle cx="1175.64" cy="23" r="5.7" fill="#0000ff"/><ellipse cx="1172.64" cy="23" rx="0.8" ry="2" fill="#7070ff"/><ellipse cx="1178.85" cy="23" rx="0.8" ry="2" fill="#7070ff"/>
<circle cx="1222.27" cy="28.46" r="5.7" fill="#0000ff"/><ellipse cx="1219.27" cy="28.46" rx="0.8" ry="2" fill="#7070ff"/><ellipse cx="1225.47" cy="28.46" rx="0.8" ry="2" fill="#7070ff"/>
<circle cx="1268.88" cy="103.5" r="5.7" fill="#0000ff"/><ellipse cx="1265.88" cy="103.5" rx="0.8" ry="2" fill="#7070ff"/><ellipse cx="1272.09" cy="103.5" rx="0.8" ry="2" fill="#7070ff"/>
<circle cx="1315.51" cy="82.51" r="5.7" fill="#0000ff"/><ellipse cx="1312.51" cy="82.51" rx="0.8" ry="2" fill="#7070ff"/><ellipse cx="1318.71" cy="82.51" rx="0.8" ry="2" fill="#7070ff"/>
<circle cx="1362.12" cy="114.42" r="5.7" fill="#0000ff"/><ellipse cx="1359.12" cy="114.42" rx="0.8" ry="2" fill="#7070ff"/><ellipse cx="1365.33" cy="114.42" rx="0.8" ry="2" fill="#7070ff"/>
<circle cx="1408.75" cy="106.09" r="5.7" fill="#0000ff"/><ellipse cx="1405.75" cy="106.09" rx="0.8" ry="2" fill="#7070ff"/><ellipse cx="1411.95" cy="106.09" rx="0.8" ry="2" fill="#7070ff"/>
<circle cx="1455.37" cy="154.67" r="5.7" fill="#0000ff"/><ellipse cx="1452.37" cy="154.67" rx="0.8" ry="2" fill="#7070ff"/><ellipse cx="1458.57" cy="154.67" rx="0.8" ry="2" fill="#7070ff"/>
<rect x="948" y="304.7" width="12.4" height="11.6" fill="#ff0000"/><ellipse cx="951" cy="311.3" rx="0.8" ry="2.1" fill="#ff8a8a"/><ellipse cx="957" cy="311.3" rx="0.8" ry="2.1" fill="#ff8a8a"/>
<rect x="1006.27" y="304.7" width="12.4" height="11.6" fill="#ff0000"/><ellipse cx="1009.27" cy="311.3" rx="0.8" ry="2.1" fill="#ff8a8a"/><ellipse cx="1015.27" cy="311.3" rx="0.8" ry="2.1" fill="#ff8a8a"/>
<rect x="1029.59" y="304.7" width="12.4" height="11.6" fill="#ff0000"/><ellipse cx="1032.59" cy="311.3" rx="0.8" ry="2.1" fill="#ff8a8a"/><ellipse cx="1038.59" cy="311.3" rx="0.8" ry="2.1" fill="#ff8a8a"/>
<rect x="1052.89" y="304.7" width="12.4" height="11.6" fill="#ff0000"/><ellipse cx="1055.89" cy="311.3" rx="0.8" ry="2.1" fill="#ff8a8a"/><ellipse cx="1061.89" cy="311.3" rx="0.8" ry="2.1" fill="#ff8a8a"/>
<rect x="1076.2" y="304.7" width="12.4" height="11.6" fill="#ff0000"/><ellipse cx="1079.2" cy="311.3" rx="0.8" ry="2.1" fill="#ff8a8a"/><ellipse cx="1085.2" cy="311.3" rx="0.8" ry="2.1" fill="#ff8a8a"/>
<rect x="1122.83" y="304.7" width="12.4" height="11.6" fill="#ff0000"/><ellipse cx="1125.83" cy="311.3" rx="0.8" ry="2.1" fill="#ff8a8a"/><ellipse cx="1131.83" cy="311.3" rx="0.8" ry="2.1" fill="#ff8a8a"/>
<rect x="1146.13" y="304.7" width="12.4" height="11.6" fill="#ff0000"/><ellipse cx="1149.13" cy="311.3" rx="0.8" ry="2.1" fill="#ff8a8a"/><ellipse cx="1155.13" cy="311.3" rx="0.8" ry="2.1" fill="#ff8a8a"/>
<rect x="1169.44" y="304.7" width="12.4" height="11.6" fill="#ff0000"/><ellipse cx="1172.44" cy="311.3" rx="0.8" ry="2.1" fill="#ff8a8a"/><ellipse cx="1178.44" cy="311.3" rx="0.8" ry="2.1" fill="#ff8a8a"/>
<rect x="1216.07" y="296.65" width="12.4" height="11.6" fill="#ff0000"/><ellipse cx="1219.07" cy="303.25" rx="0.8" ry="2.1" fill="#ff8a8a"/><ellipse cx="1225.07" cy="303.25" rx="0.8" ry="2.1" fill="#ff8a8a"/>
<rect x="1262.68" y="223.05" width="12.4" height="11.6" fill="#ff0000"/><ellipse cx="1265.68" cy="229.65" rx="0.8" ry="2.1" fill="#ff8a8a"/><ellipse cx="1271.68" cy="229.65" rx="0.8" ry="2.1" fill="#ff8a8a"/>
<rect x="1309.31" y="254.39" width="12.4" height="11.6" fill="#ff0000"/><ellipse cx="1312.31" cy="260.99" rx="0.8" ry="2.1" fill="#ff8a8a"/><ellipse cx="1318.31" cy="260.99" rx="0.8" ry="2.1" fill="#ff8a8a"/>
<rect x="1355.92" y="229.38" width="12.4" height="11.6" fill="#ff0000"/><ellipse cx="1358.92" cy="235.98" rx="0.8" ry="2.1" fill="#ff8a8a"/><ellipse cx="1364.92" cy="235.98" rx="0.8" ry="2.1" fill="#ff8a8a"/>
<rect x="1402.55" y="250.36" width="12.4" height="11.6" fill="#ff0000"/><ellipse cx="1405.55" cy="256.96" rx="0.8" ry="2.1" fill="#ff8a8a"/><ellipse cx="1411.55" cy="256.96" rx="0.8" ry="2.1" fill="#ff8a8a"/>
<rect x="1449.16" y="243.46" width="12.4" height="11.6" fill="#ff0000"/><ellipse cx="1452.16" cy="250.06" rx="0.8" ry="2.1" fill="#ff8a8a"/><ellipse cx="1458.16" cy="250.06" rx="0.8" ry="2.1" fill="#ff8a8a"/>
<path d="M948.6 304.5L959.8 304.5L954.2 317.5Z" fill="#008000"/>
<path d="M1006.88 304.5L1018.08 304.5L1012.48 317.5Z" fill="#008000"/>
<path d="M1030.19 304.5L1041.38 304.5L1035.79 317.5Z" fill="#008000"/>
<path d="M1053.5 304.5L1064.69 304.5L1059.1 317.5Z" fill="#008000"/>
<path d="M1076.81 304.5L1088 304.5L1082.4 317.5Z" fill="#008000"/>
<path d="M1123.43 304.5L1134.62 304.5L1129.03 317.5Z" fill="#008000"/>
<path d="M1146.74 304.5L1157.93 304.5L1152.34 317.5Z" fill="#008000"/>
<path d="M1170.05 304.5L1181.24 304.5L1175.64 317.5Z" fill="#008000"/>
<path d="M1216.67 304.5L1227.87 304.5L1222.27 317.5Z" fill="#008000"/>
<path d="M1263.29 304.5L1274.48 304.5L1268.88 317.5Z" fill="#008000"/>
<path d="M1309.91 291.56L1321.11 291.56L1315.51 304.56Z" fill="#008000"/>
<path d="M1356.53 286.68L1367.72 286.68L1362.12 299.68Z" fill="#008000"/>
<path d="M1403.15 274.6L1414.35 274.6L1408.75 287.6Z" fill="#008000"/>
<path d="M1449.77 230.9L1460.96 230.9L1455.37 243.9Z" fill="#008000"/>
<rect x="936" y="7" width="558.3" height="316.8" fill="none" stroke="#000" stroke-width="2.2"/>
<text transform="translate(910.6 330.1) scale(1.015 1)" class="tl" text-anchor="end">0</text>
<text transform="translate(910.6 258.23) scale(1.015 1)" class="tl" text-anchor="end">25</text>
<text transform="translate(910.6 186.35) scale(1.015 1)" class="tl" text-anchor="end">50</text>
<text transform="translate(910.6 114.47) scale(1.015 1)" class="tl" text-anchor="end">75</text>
<text transform="translate(910.6 42.6) scale(1.015 1)" class="tl" text-anchor="end">100</text>
<text transform="translate(1050.9 156.7) scale(1.01 1)" class="an">Low M<tspan class="sub" dy="9">S</tspan></text>
<text transform="translate(1050.9 204.7) scale(1.01 1)" class="an">a = 450 nm</text>
<text transform="translate(975.68 272.34) scale(0.4444 0.4585)" class="pl">d</text>
<path d="M934.1 677.1h14.4M1494.3 677.1h-14.4M934.1 662.03h9.6M1494.3 662.03h-9.6M934.1 646.96h9.6M1494.3 646.96h-9.6M934.1 631.89h9.6M1494.3 631.89h-9.6M934.1 616.82h9.6M1494.3 616.82h-9.6M934.1 601.75h14.4M1494.3 601.75h-14.4M934.1 586.68h9.6M1494.3 586.68h-9.6M934.1 571.61h9.6M1494.3 571.61h-9.6M934.1 556.54h9.6M1494.3 556.54h-9.6M934.1 541.47h9.6M1494.3 541.47h-9.6M934.1 526.4h14.4M1494.3 526.4h-14.4M934.1 511.33h9.6M1494.3 511.33h-9.6M934.1 496.26h9.6M1494.3 496.26h-9.6M934.1 481.19h9.6M1494.3 481.19h-9.6M934.1 466.12h9.6M1494.3 466.12h-9.6M934.1 451.05h14.4M1494.3 451.05h-14.4M934.1 435.98h9.6M1494.3 435.98h-9.6M934.1 420.91h9.6M1494.3 420.91h-9.6M934.1 405.84h9.6M1494.3 405.84h-9.6M934.1 390.77h9.6M1494.3 390.77h-9.6M934.1 375.7h14.4M1494.3 375.7h-14.4" stroke="#000" stroke-width="2" fill="none"/>
<polyline points="953.8,375.7 1012.07,375.7 1035.38,375.7 1058.69,375.7 1082,375.7 1128.62,375.7 1151.93,375.7 1175.24,375.7 1221.87,387.15 1268.48,478.18 1315.11,459.49 1361.72,499.58 1408.35,486.62 1454.96,523.39" fill="none" stroke="#0000ff" stroke-width="1.7" stroke-opacity="0.8"/>
<polyline points="953.8,677.1 1012.07,677.1 1035.38,677.1 1058.69,677.1 1082,677.1 1128.62,677.1 1151.93,677.1 1175.24,677.1 1221.87,677.1 1268.48,677.1 1315.11,649.37 1361.72,634.9 1408.35,649.37 1454.96,625.56" fill="none" stroke="#008000" stroke-width="1.7" stroke-opacity="0.8"/>
<polyline points="953.8,677.1 1012.07,677.1 1035.38,677.1 1058.69,677.1 1082,677.1 1128.62,677.1 1151.93,677.1 1175.24,677.1 1221.87,664.74 1268.48,574.93 1315.11,619.23 1361.72,595.72 1408.35,592.71 1454.96,580.65" fill="none" stroke="#ff0000" stroke-width="1.7" stroke-opacity="0.8"/>
<line x1="953.8" y1="677.1" x2="1175.24" y2="677.1" stroke="#e0403a" stroke-width="2"/>
<circle cx="953.8" cy="375.7" r="5.7" fill="#0000ff"/><ellipse cx="950.8" cy="375.7" rx="0.8" ry="2" fill="#7070ff"/><ellipse cx="957" cy="375.7" rx="0.8" ry="2" fill="#7070ff"/>
<circle cx="1012.07" cy="375.7" r="5.7" fill="#0000ff"/><ellipse cx="1009.07" cy="375.7" rx="0.8" ry="2" fill="#7070ff"/><ellipse cx="1015.27" cy="375.7" rx="0.8" ry="2" fill="#7070ff"/>
<circle cx="1035.38" cy="375.7" r="5.7" fill="#0000ff"/><ellipse cx="1032.38" cy="375.7" rx="0.8" ry="2" fill="#7070ff"/><ellipse cx="1038.59" cy="375.7" rx="0.8" ry="2" fill="#7070ff"/>
<circle cx="1058.69" cy="375.7" r="5.7" fill="#0000ff"/><ellipse cx="1055.69" cy="375.7" rx="0.8" ry="2" fill="#7070ff"/><ellipse cx="1061.89" cy="375.7" rx="0.8" ry="2" fill="#7070ff"/>
<circle cx="1082" cy="375.7" r="5.7" fill="#0000ff"/><ellipse cx="1079" cy="375.7" rx="0.8" ry="2" fill="#7070ff"/><ellipse cx="1085.2" cy="375.7" rx="0.8" ry="2" fill="#7070ff"/>
<circle cx="1128.62" cy="375.7" r="5.7" fill="#0000ff"/><ellipse cx="1125.62" cy="375.7" rx="0.8" ry="2" fill="#7070ff"/><ellipse cx="1131.83" cy="375.7" rx="0.8" ry="2" fill="#7070ff"/>
<circle cx="1151.93" cy="375.7" r="5.7" fill="#0000ff"/><ellipse cx="1148.93" cy="375.7" rx="0.8" ry="2" fill="#7070ff"/><ellipse cx="1155.13" cy="375.7" rx="0.8" ry="2" fill="#7070ff"/>
<circle cx="1175.24" cy="375.7" r="5.7" fill="#0000ff"/><ellipse cx="1172.24" cy="375.7" rx="0.8" ry="2" fill="#7070ff"/><ellipse cx="1178.44" cy="375.7" rx="0.8" ry="2" fill="#7070ff"/>
<circle cx="1221.87" cy="387.15" r="5.7" fill="#0000ff"/><ellipse cx="1218.87" cy="387.15" rx="0.8" ry="2" fill="#7070ff"/><ellipse cx="1225.07" cy="387.15" rx="0.8" ry="2" fill="#7070ff"/>
<circle cx="1268.48" cy="478.18" r="5.7" fill="#0000ff"/><ellipse cx="1265.48" cy="478.18" rx="0.8" ry="2" fill="#7070ff"/><ellipse cx="1271.68" cy="478.18" rx="0.8" ry="2" fill="#7070ff"/>
<circle cx="1315.11" cy="459.49" r="5.7" fill="#0000ff"/><ellipse cx="1312.11" cy="459.49" rx="0.8" ry="2" fill="#7070ff"/><ellipse cx="1318.31" cy="459.49" rx="0.8" ry="2" fill="#7070ff"/>
<circle cx="1361.72" cy="499.58" r="5.7" fill="#0000ff"/><ellipse cx="1358.72" cy="499.58" rx="0.8" ry="2" fill="#7070ff"/><ellipse cx="1364.92" cy="499.58" rx="0.8" ry="2" fill="#7070ff"/>
<circle cx="1408.35" cy="486.62" r="5.7" fill="#0000ff"/><ellipse cx="1405.35" cy="486.62" rx="0.8" ry="2" fill="#7070ff"/><ellipse cx="1411.55" cy="486.62" rx="0.8" ry="2" fill="#7070ff"/>
<circle cx="1454.96" cy="523.39" r="5.7" fill="#0000ff"/><ellipse cx="1451.96" cy="523.39" rx="0.8" ry="2" fill="#7070ff"/><ellipse cx="1458.16" cy="523.39" rx="0.8" ry="2" fill="#7070ff"/>
<path d="M948.2 671.1L959.4 671.1L953.8 684.1Z" fill="#008000"/>
<path d="M1006.47 671.1L1017.67 671.1L1012.07 684.1Z" fill="#008000"/>
<path d="M1029.79 671.1L1040.98 671.1L1035.38 684.1Z" fill="#008000"/>
<path d="M1053.1 671.1L1064.29 671.1L1058.69 684.1Z" fill="#008000"/>
<path d="M1076.4 671.1L1087.6 671.1L1082 684.1Z" fill="#008000"/>
<path d="M1123.03 671.1L1134.22 671.1L1128.62 684.1Z" fill="#008000"/>
<path d="M1146.34 671.1L1157.53 671.1L1151.93 684.1Z" fill="#008000"/>
<path d="M1169.64 671.1L1180.84 671.1L1175.24 684.1Z" fill="#008000"/>
<path d="M1216.27 671.1L1227.46 671.1L1221.87 684.1Z" fill="#008000"/>
<path d="M1262.88 671.1L1274.08 671.1L1268.48 684.1Z" fill="#008000"/>
<path d="M1309.51 643.37L1320.7 643.37L1315.11 656.37Z" fill="#008000"/>
<path d="M1356.12 628.9L1367.32 628.9L1361.72 641.9Z" fill="#008000"/>
<path d="M1402.75 643.37L1413.94 643.37L1408.35 656.37Z" fill="#008000"/>
<path d="M1449.37 619.56L1460.56 619.56L1454.96 632.56Z" fill="#008000"/>
<rect x="947.6" y="671.3" width="12.4" height="11.6" fill="#ff0000"/><ellipse cx="950.6" cy="677.9" rx="0.8" ry="2.1" fill="#ff8a8a"/><ellipse cx="956.6" cy="677.9" rx="0.8" ry="2.1" fill="#ff8a8a"/>
<rect x="1005.87" y="671.3" width="12.4" height="11.6" fill="#ff0000"/><ellipse cx="1008.87" cy="677.9" rx="0.8" ry="2.1" fill="#ff8a8a"/><ellipse cx="1014.87" cy="677.9" rx="0.8" ry="2.1" fill="#ff8a8a"/>
<rect x="1029.18" y="671.3" width="12.4" height="11.6" fill="#ff0000"/><ellipse cx="1032.18" cy="677.9" rx="0.8" ry="2.1" fill="#ff8a8a"/><ellipse cx="1038.18" cy="677.9" rx="0.8" ry="2.1" fill="#ff8a8a"/>
<rect x="1052.49" y="671.3" width="12.4" height="11.6" fill="#ff0000"/><ellipse cx="1055.49" cy="677.9" rx="0.8" ry="2.1" fill="#ff8a8a"/><ellipse cx="1061.49" cy="677.9" rx="0.8" ry="2.1" fill="#ff8a8a"/>
<rect x="1075.8" y="671.3" width="12.4" height="11.6" fill="#ff0000"/><ellipse cx="1078.8" cy="677.9" rx="0.8" ry="2.1" fill="#ff8a8a"/><ellipse cx="1084.8" cy="677.9" rx="0.8" ry="2.1" fill="#ff8a8a"/>
<rect x="1122.42" y="671.3" width="12.4" height="11.6" fill="#ff0000"/><ellipse cx="1125.42" cy="677.9" rx="0.8" ry="2.1" fill="#ff8a8a"/><ellipse cx="1131.42" cy="677.9" rx="0.8" ry="2.1" fill="#ff8a8a"/>
<rect x="1145.73" y="671.3" width="12.4" height="11.6" fill="#ff0000"/><ellipse cx="1148.73" cy="677.9" rx="0.8" ry="2.1" fill="#ff8a8a"/><ellipse cx="1154.73" cy="677.9" rx="0.8" ry="2.1" fill="#ff8a8a"/>
<rect x="1169.04" y="671.3" width="12.4" height="11.6" fill="#ff0000"/><ellipse cx="1172.04" cy="677.9" rx="0.8" ry="2.1" fill="#ff8a8a"/><ellipse cx="1178.04" cy="677.9" rx="0.8" ry="2.1" fill="#ff8a8a"/>
<rect x="1215.66" y="658.94" width="12.4" height="11.6" fill="#ff0000"/><ellipse cx="1218.66" cy="665.54" rx="0.8" ry="2.1" fill="#ff8a8a"/><ellipse cx="1224.66" cy="665.54" rx="0.8" ry="2.1" fill="#ff8a8a"/>
<rect x="1262.28" y="569.13" width="12.4" height="11.6" fill="#ff0000"/><ellipse cx="1265.28" cy="575.73" rx="0.8" ry="2.1" fill="#ff8a8a"/><ellipse cx="1271.28" cy="575.73" rx="0.8" ry="2.1" fill="#ff8a8a"/>
<rect x="1308.9" y="613.43" width="12.4" height="11.6" fill="#ff0000"/><ellipse cx="1311.9" cy="620.03" rx="0.8" ry="2.1" fill="#ff8a8a"/><ellipse cx="1317.9" cy="620.03" rx="0.8" ry="2.1" fill="#ff8a8a"/>
<rect x="1355.52" y="589.92" width="12.4" height="11.6" fill="#ff0000"/><ellipse cx="1358.52" cy="596.52" rx="0.8" ry="2.1" fill="#ff8a8a"/><ellipse cx="1364.52" cy="596.52" rx="0.8" ry="2.1" fill="#ff8a8a"/>
<rect x="1402.14" y="586.91" width="12.4" height="11.6" fill="#ff0000"/><ellipse cx="1405.14" cy="593.51" rx="0.8" ry="2.1" fill="#ff8a8a"/><ellipse cx="1411.14" cy="593.51" rx="0.8" ry="2.1" fill="#ff8a8a"/>
<rect x="1448.76" y="574.85" width="12.4" height="11.6" fill="#ff0000"/><ellipse cx="1451.76" cy="581.45" rx="0.8" ry="2.1" fill="#ff8a8a"/><ellipse cx="1457.76" cy="581.45" rx="0.8" ry="2.1" fill="#ff8a8a"/>
<rect x="934.1" y="360" width="560.2" height="332" fill="none" stroke="#000" stroke-width="2.2"/>
<text transform="translate(909 696.7) scale(1.015 1)" class="tl" text-anchor="end">0</text>
<text transform="translate(909 621.35) scale(1.015 1)" class="tl" text-anchor="end">25</text>
<text transform="translate(909 546) scale(1.015 1)" class="tl" text-anchor="end">50</text>
<text transform="translate(909 470.65) scale(1.015 1)" class="tl" text-anchor="end">75</text>
<text transform="translate(909 395.3) scale(1.015 1)" class="tl" text-anchor="end">100</text>
<text transform="translate(1050.9 506.7) scale(1.01 1)" class="an">Low M<tspan class="sub" dy="9">S</tspan></text>
<text transform="translate(1050.9 554.3) scale(1.01 1)" class="an">a = 500 nm</text>
<text transform="translate(975.79 625.26) scale(0.4389 0.4361)" class="pl">e</text>
<path d="M934 1032.3h14.3M1494.3 1032.3h-14.3M934 1017.48h9.6M1494.3 1017.48h-9.6M934 1002.67h9.6M1494.3 1002.67h-9.6M934 987.86h9.6M1494.3 987.86h-9.6M934 973.04h9.6M1494.3 973.04h-9.6M934 958.22h14.3M1494.3 958.22h-14.3M934 943.41h9.6M1494.3 943.41h-9.6M934 928.6h9.6M1494.3 928.6h-9.6M934 913.78h9.6M1494.3 913.78h-9.6M934 898.96h9.6M1494.3 898.96h-9.6M934 884.15h14.3M1494.3 884.15h-14.3M934 869.34h9.6M1494.3 869.34h-9.6M934 854.52h9.6M1494.3 854.52h-9.6M934 839.7h9.6M1494.3 839.7h-9.6M934 824.89h9.6M1494.3 824.89h-9.6M934 810.08h14.3M1494.3 810.08h-14.3M934 795.26h9.6M1494.3 795.26h-9.6M934 780.44h9.6M1494.3 780.44h-9.6M934 765.63h9.6M1494.3 765.63h-9.6M934 750.82h9.6M1494.3 750.82h-9.6M934 736h14.3M1494.3 736h-14.3M958 720.3v13M958 1045.5v-13M981.29 720.3v8M981.29 1045.5v-8M1004.58 720.3v8M1004.58 1045.5v-8M1027.87 720.3v8M1027.87 1045.5v-8M1051.16 720.3v8M1051.16 1045.5v-8M1074.45 720.3v13M1074.45 1045.5v-13M1097.74 720.3v8M1097.74 1045.5v-8M1121.03 720.3v8M1121.03 1045.5v-8M1144.32 720.3v8M1144.32 1045.5v-8M1167.61 720.3v8M1167.61 1045.5v-8M1190.9 720.3v13M1190.9 1045.5v-13M1214.19 720.3v8M1214.19 1045.5v-8M1237.48 720.3v8M1237.48 1045.5v-8M1260.77 720.3v8M1260.77 1045.5v-8M1284.06 720.3v8M1284.06 1045.5v-8M1307.35 720.3v13M1307.35 1045.5v-13M1330.64 720.3v8M1330.64 1045.5v-8M1353.93 720.3v8M1353.93 1045.5v-8M1377.22 720.3v8M1377.22 1045.5v-8M1400.51 720.3v8M1400.51 1045.5v-8M1423.8 720.3v13M1423.8 1045.5v-13M1447.09 720.3v8M1447.09 1045.5v-8M1470.38 720.3v8M1470.38 1045.5v-8" stroke="#000" stroke-width="2" fill="none"/>
<polyline points="953.34,736 1011.57,736 1081.44,738.96 1128.02,739.26 1174.6,742.52 1221.18,758.52 1267.76,836.45 1314.34,875.26 1360.92,907.56 1430.79,880.89 1454.08,866.08" fill="none" stroke="#0000ff" stroke-width="1.7" stroke-opacity="0.8"/>
<polyline points="953.34,1032.3 1011.57,1032.3 1081.44,1032.3 1128.02,1032.3 1174.6,1032.3 1221.18,1032.3 1267.76,1032.3 1314.34,984.3 1360.92,967.41 1430.79,984.3 1454.08,970.08" fill="none" stroke="#008000" stroke-width="1.7" stroke-opacity="0.8"/>
<polyline points="953.34,1032.3 1011.57,1032.3 1081.44,1028.15 1128.02,1027.86 1174.6,1025.19 1221.18,1008.3 1267.76,932.15 1314.34,940.74 1360.92,925.93 1430.79,933.63 1454.08,964.15" fill="none" stroke="#ff0000" stroke-width="1.7" stroke-opacity="0.8"/>
<line x1="953.34" y1="1032.3" x2="1011.57" y2="1032.3" stroke="#e0403a" stroke-width="2"/>
<circle cx="953.34" cy="736" r="5.7" fill="#0000ff"/><ellipse cx="950.34" cy="736" rx="0.8" ry="2" fill="#7070ff"/><ellipse cx="956.54" cy="736" rx="0.8" ry="2" fill="#7070ff"/>
<circle cx="1011.57" cy="736" r="5.7" fill="#0000ff"/><ellipse cx="1008.57" cy="736" rx="0.8" ry="2" fill="#7070ff"/><ellipse cx="1014.77" cy="736" rx="0.8" ry="2" fill="#7070ff"/>
<circle cx="1081.44" cy="738.96" r="5.7" fill="#0000ff"/><ellipse cx="1078.44" cy="738.96" rx="0.8" ry="2" fill="#7070ff"/><ellipse cx="1084.64" cy="738.96" rx="0.8" ry="2" fill="#7070ff"/>
<circle cx="1128.02" cy="739.26" r="5.7" fill="#0000ff"/><ellipse cx="1125.02" cy="739.26" rx="0.8" ry="2" fill="#7070ff"/><ellipse cx="1131.22" cy="739.26" rx="0.8" ry="2" fill="#7070ff"/>
<circle cx="1174.6" cy="742.52" r="5.7" fill="#0000ff"/><ellipse cx="1171.6" cy="742.52" rx="0.8" ry="2" fill="#7070ff"/><ellipse cx="1177.8" cy="742.52" rx="0.8" ry="2" fill="#7070ff"/>
<circle cx="1221.18" cy="758.52" r="5.7" fill="#0000ff"/><ellipse cx="1218.18" cy="758.52" rx="0.8" ry="2" fill="#7070ff"/><ellipse cx="1224.38" cy="758.52" rx="0.8" ry="2" fill="#7070ff"/>
<circle cx="1267.76" cy="836.45" r="5.7" fill="#0000ff"/><ellipse cx="1264.76" cy="836.45" rx="0.8" ry="2" fill="#7070ff"/><ellipse cx="1270.96" cy="836.45" rx="0.8" ry="2" fill="#7070ff"/>
<circle cx="1314.34" cy="875.26" r="5.7" fill="#0000ff"/><ellipse cx="1311.34" cy="875.26" rx="0.8" ry="2" fill="#7070ff"/><ellipse cx="1317.54" cy="875.26" rx="0.8" ry="2" fill="#7070ff"/>
<circle cx="1360.92" cy="907.56" r="5.7" fill="#0000ff"/><ellipse cx="1357.92" cy="907.56" rx="0.8" ry="2" fill="#7070ff"/><ellipse cx="1364.12" cy="907.56" rx="0.8" ry="2" fill="#7070ff"/>
<circle cx="1430.79" cy="880.89" r="5.7" fill="#0000ff"/><ellipse cx="1427.79" cy="880.89" rx="0.8" ry="2" fill="#7070ff"/><ellipse cx="1433.99" cy="880.89" rx="0.8" ry="2" fill="#7070ff"/>
<circle cx="1454.08" cy="866.08" r="5.7" fill="#0000ff"/><ellipse cx="1451.08" cy="866.08" rx="0.8" ry="2" fill="#7070ff"/><ellipse cx="1457.28" cy="866.08" rx="0.8" ry="2" fill="#7070ff"/>
<path d="M947.74 1026.3L958.94 1026.3L953.34 1039.3Z" fill="#008000"/>
<path d="M1005.97 1026.3L1017.17 1026.3L1011.57 1039.3Z" fill="#008000"/>
<path d="M1075.84 1026.3L1087.04 1026.3L1081.44 1039.3Z" fill="#008000"/>
<path d="M1122.42 1026.3L1133.62 1026.3L1128.02 1039.3Z" fill="#008000"/>
<path d="M1169 1026.3L1180.2 1026.3L1174.6 1039.3Z" fill="#008000"/>
<path d="M1215.58 1026.3L1226.78 1026.3L1221.18 1039.3Z" fill="#008000"/>
<path d="M1262.16 1026.3L1273.36 1026.3L1267.76 1039.3Z" fill="#008000"/>
<path d="M1308.74 978.3L1319.94 978.3L1314.34 991.3Z" fill="#008000"/>
<path d="M1355.32 961.41L1366.52 961.41L1360.92 974.41Z" fill="#008000"/>
<path d="M1425.19 978.3L1436.39 978.3L1430.79 991.3Z" fill="#008000"/>
<path d="M1448.48 964.08L1459.68 964.08L1454.08 977.08Z" fill="#008000"/>
<rect x="947.14" y="1026.5" width="12.4" height="11.6" fill="#ff0000"/><ellipse cx="950.14" cy="1033.1" rx="0.8" ry="2.1" fill="#ff8a8a"/><ellipse cx="956.14" cy="1033.1" rx="0.8" ry="2.1" fill="#ff8a8a"/>
<rect x="1005.37" y="1026.5" width="12.4" height="11.6" fill="#ff0000"/><ellipse cx="1008.37" cy="1033.1" rx="0.8" ry="2.1" fill="#ff8a8a"/><ellipse cx="1014.37" cy="1033.1" rx="0.8" ry="2.1" fill="#ff8a8a"/>
<rect x="1075.24" y="1022.35" width="12.4" height="11.6" fill="#ff0000"/><ellipse cx="1078.24" cy="1028.95" rx="0.8" ry="2.1" fill="#ff8a8a"/><ellipse cx="1084.24" cy="1028.95" rx="0.8" ry="2.1" fill="#ff8a8a"/>
<rect x="1121.82" y="1022.06" width="12.4" height="11.6" fill="#ff0000"/><ellipse cx="1124.82" cy="1028.66" rx="0.8" ry="2.1" fill="#ff8a8a"/><ellipse cx="1130.82" cy="1028.66" rx="0.8" ry="2.1" fill="#ff8a8a"/>
<rect x="1168.4" y="1019.39" width="12.4" height="11.6" fill="#ff0000"/><ellipse cx="1171.4" cy="1025.99" rx="0.8" ry="2.1" fill="#ff8a8a"/><ellipse cx="1177.4" cy="1025.99" rx="0.8" ry="2.1" fill="#ff8a8a"/>
<rect x="1214.98" y="1002.5" width="12.4" height="11.6" fill="#ff0000"/><ellipse cx="1217.98" cy="1009.1" rx="0.8" ry="2.1" fill="#ff8a8a"/><ellipse cx="1223.98" cy="1009.1" rx="0.8" ry="2.1" fill="#ff8a8a"/>
<rect x="1261.56" y="926.35" width="12.4" height="11.6" fill="#ff0000"/><ellipse cx="1264.56" cy="932.95" rx="0.8" ry="2.1" fill="#ff8a8a"/><ellipse cx="1270.56" cy="932.95" rx="0.8" ry="2.1" fill="#ff8a8a"/>
<rect x="1308.14" y="934.94" width="12.4" height="11.6" fill="#ff0000"/><ellipse cx="1311.14" cy="941.54" rx="0.8" ry="2.1" fill="#ff8a8a"/><ellipse cx="1317.14" cy="941.54" rx="0.8" ry="2.1" fill="#ff8a8a"/>
<rect x="1354.72" y="920.13" width="12.4" height="11.6" fill="#ff0000"/><ellipse cx="1357.72" cy="926.73" rx="0.8" ry="2.1" fill="#ff8a8a"/><ellipse cx="1363.72" cy="926.73" rx="0.8" ry="2.1" fill="#ff8a8a"/>
<rect x="1424.59" y="927.83" width="12.4" height="11.6" fill="#ff0000"/><ellipse cx="1427.59" cy="934.43" rx="0.8" ry="2.1" fill="#ff8a8a"/><ellipse cx="1433.59" cy="934.43" rx="0.8" ry="2.1" fill="#ff8a8a"/>
<rect x="1447.88" y="958.35" width="12.4" height="11.6" fill="#ff0000"/><ellipse cx="1450.88" cy="964.95" rx="0.8" ry="2.1" fill="#ff8a8a"/><ellipse cx="1456.88" cy="964.95" rx="0.8" ry="2.1" fill="#ff8a8a"/>
<rect x="934" y="720.3" width="560.3" height="325.2" fill="none" stroke="#000" stroke-width="2.2"/>
<text transform="translate(909 1051.9) scale(1.015 1)" class="tl" text-anchor="end">0</text>
<text transform="translate(909 977.82) scale(1.015 1)" class="tl" text-anchor="end">25</text>
<text transform="translate(909 903.75) scale(1.015 1)" class="tl" text-anchor="end">50</text>
<text transform="translate(909 829.68) scale(1.015 1)" class="tl" text-anchor="end">75</text>
<text transform="translate(909 755.6) scale(1.015 1)" class="tl" text-anchor="end">100</text>
<text transform="translate(1050.9 861.1) scale(1.01 1)" class="an">Low M<tspan class="sub" dy="9">S</tspan></text>
<text transform="translate(1050.9 909) scale(1.01 1)" class="an">a = 600 nm</text>
<text transform="translate(975.36 977.4) scale(0.4937 0.4690)" class="pl">f</text>
<rect x="208.7" y="40.6" width="146.4" height="139.6" fill="#fff" stroke="#000" stroke-width="1.9"/>
<line x1="232.6" y1="75.5" x2="289.1" y2="75.5" stroke="#0000ff" stroke-width="1.8"/>
<circle cx="232.6" cy="75.5" r="4.2" fill="none" stroke="#0000ff" stroke-width="2.4"/>
<circle cx="289.1" cy="75.5" r="4.2" fill="none" stroke="#0000ff" stroke-width="2.4"/>
<line x1="232.6" y1="111" x2="289.1" y2="111" stroke="#ff0000" stroke-width="1.8"/>
<rect x="228" y="106" width="9.5" height="9.5" fill="none" stroke="#ff0000" stroke-width="2.4"/>
<rect x="284.4" y="106" width="9.5" height="9.5" fill="none" stroke="#ff0000" stroke-width="2.4"/>
<line x1="232.6" y1="147.2" x2="289.1" y2="147.2" stroke="#008000" stroke-width="1.8"/>
<path d="M226.8 141.8L238.4 141.8L232.6 153.6Z" fill="#008000"/>
<path d="M283.3 141.8L294.9 141.8L289.1 153.6Z" fill="#008000"/>
<text x="308" y="84.8" class="lg">T2</text>
<text x="308" y="119.1" class="lg">T3</text>
<text x="308" y="155.2" class="lg">T1</text>
<text transform="translate(213 1118.7) scale(1.03 1)" class="tl" text-anchor="middle">300</text>
<text transform="translate(329.35 1118.7) scale(1.03 1)" class="tl" text-anchor="middle">350</text>
<text transform="translate(445.7 1118.7) scale(1.03 1)" class="tl" text-anchor="middle">400</text>
<text transform="translate(562.05 1118.7) scale(1.03 1)" class="tl" text-anchor="middle">450</text>
<text transform="translate(678.4 1118.7) scale(1.03 1)" class="tl" text-anchor="middle">500</text>
<text transform="translate(958.4 1118.7) scale(1.03 1)" class="tl" text-anchor="middle">300</text>
<text transform="translate(1074.85 1118.7) scale(1.03 1)" class="tl" text-anchor="middle">350</text>
<text transform="translate(1191.3 1118.7) scale(1.03 1)" class="tl" text-anchor="middle">400</text>
<text transform="translate(1307.75 1118.7) scale(1.03 1)" class="tl" text-anchor="middle">450</text>
<text transform="translate(1424.2 1118.7) scale(1.03 1)" class="tl" text-anchor="middle">500</text>
<text x="267.7" y="1184.6" class="ax">Temperature (K)</text>
<text x="1015" y="1184.6" class="ax">Temperature (K)</text>
<text transform="translate(47.5 799.3) rotate(-90)" class="ax" style="font-size:61.3px">Vertex population (%)</text>
</svg>
</body></html>
